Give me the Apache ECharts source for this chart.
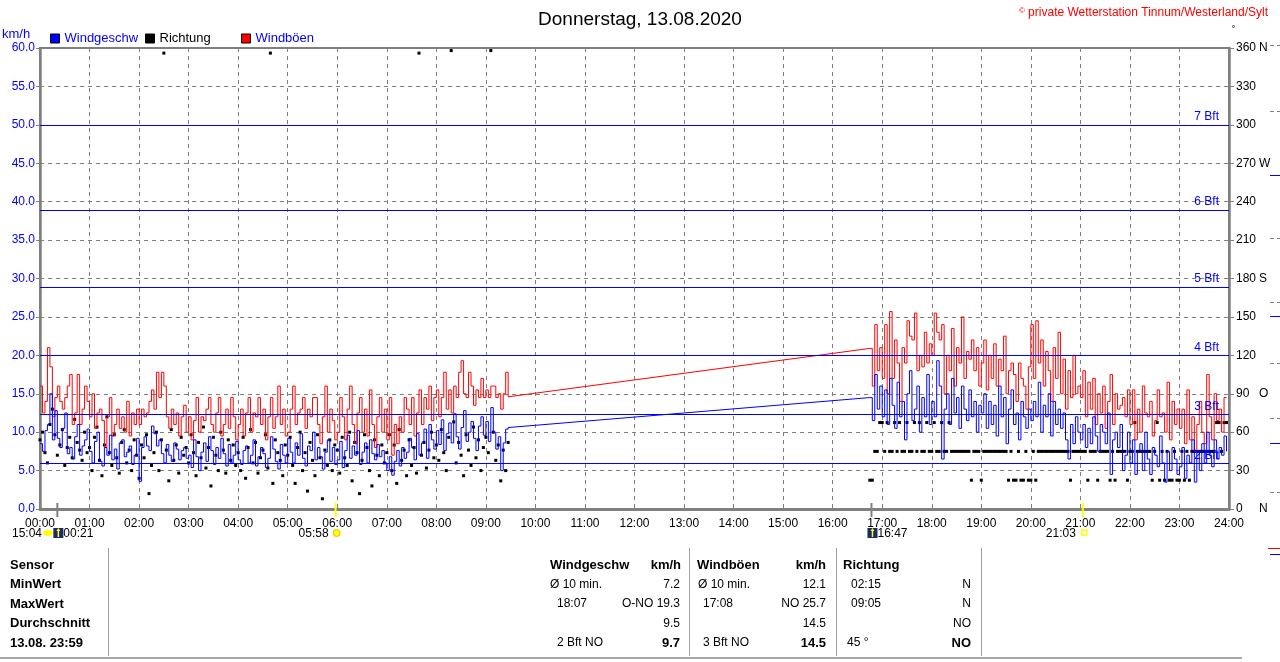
<!DOCTYPE html>
<html><head><meta charset="utf-8">
<script src="https://cdn.jsdelivr.net/npm/echarts/dist/echarts.min.js"></script>
<style>html,body{margin:0;padding:0;background:#fff}#c{width:1280px;height:662px}</style>
</head><body><div id="c"></div><script>
// ---------- data ----------
const stepMin = 3;            // sampling step of the arrays (minutes)
const seg1Start = 0;          // 00:00
const seg2Start = 1005;       // 16:45
const hourTicks = ['00:00','01:00','02:00','03:00','04:00','05:00','06:00','07:00','08:00','09:00','10:00','11:00','12:00','13:00','14:00','15:00','16:00','17:00','18:00','19:00','20:00','21:00','22:00','23:00','24:00'];

const speed1 = [
 8.5,7.5,10.2,11.0,15.0,9.0,12.8,9.2,8.0,10.5,12.5,7.2,8.0,6.5,9.4,11.0,7.0,8.2,9.0,10.4,
 7.5,6.0,8.8,10.0,6.2,5.6,8.0,7.0,9.6,6.4,7.8,5.2,8.6,9.0,6.8,7.4,8.2,5.8,7.0,9.2,
 3.6,8.0,9.4,8.2,7.6,10.8,9.8,8.2,9.0,7.2,6.0,8.4,7.0,6.2,8.6,7.8,6.4,7.6,8.0,6.6,
 7.0,5.4,9.0,6.8,5.0,7.4,8.6,6.2,9.4,7.6,5.8,8.0,6.6,9.2,7.2,5.6,8.4,6.0,7.0,8.8,
 6.4,5.8,7.6,8.2,6.0,7.0,9.0,5.6,6.8,8.0,7.2,5.4,6.6,9.4,7.8,6.2,5.2,8.4,7.0,6.0,
 9.2,7.4,6.0,8.6,7.0,9.8,6.6,5.6,8.2,7.6,10.0,6.4,8.0,6.8,5.2,7.4,9.0,6.2,8.0,5.8,
 6.4,8.8,5.4,7.6,9.6,6.6,8.2,7.0,10.2,5.8,7.4,8.6,6.0,9.0,7.2,6.4,8.4,6.8,7.6,6.0,
 5.0,6.8,4.4,6.2,7.6,5.6,8.0,6.6,7.4,9.2,8.0,6.4,9.8,7.0,8.6,10.4,6.6,11.0,9.0,7.8,
 10.2,8.4,11.6,7.6,9.8,11.2,8.6,12.4,9.4,7.8,10.6,12.8,8.8,10.0,11.4,9.2,7.6,10.8,12.0,9.6,
 11.4,8.8,13.2,10.0,7.8,9.4,5.0,8.6,10.4,10.6
];
const gust1 = [
 16,12.5,14,21,18.5,12,14.5,16,14,13,14.5,16,17.5,11,12.5,17.5,11,13,16,14,
 12,15,10.5,12.5,13,11.5,8,12,14.5,9.5,11,13,10.5,12,10,14,9.5,12.5,11,13,
 11,13,12,12.5,14,15.5,13,17.8,14.5,17.8,16,12,10.5,13,11,12.5,9.5,12,13.5,10,
 12,9,11.5,14.5,10,12,11.5,13,14.5,11,10,12.5,14.5,9.5,11,13,10.5,14.5,12,9,
 11,13,9.5,12.5,14.5,10,12.5,12,14.5,11,13,9,12,14.5,10.5,12,16,11,13,9.5,
 10,13,16,11,12.5,13,14.5,10.5,13,12,14.5,14.5,11,8.5,12,16,10,13,11.5,9,
 10,14.5,12,9,13,16,11,8.5,12.5,14.5,10,13,9.5,15.5,11,8,12,14.5,10,13,
 9,14.5,7,11,8.5,12,10,14.5,13,11,14.5,9.5,12.5,15.5,11,14.5,13,16,11.5,14.5,
 15.5,12,14.5,17.8,13,15.5,12.5,16,14.5,17.8,19.3,15,14.5,17.8,16,13.5,15.5,14.5,17,14.5,
 15.5,14.5,16,16,14.5,15,13,15,17.8,14.6
];
const dir1 = [
 54,60,44,36,66,78,58,42,50,62,34,48,56,40,70,52,46,38,60,44,
 48,30,56,64,38,26,50,72,44,34,58,40,28,52,62,36,46,30,54,42,
 24,50,40,58,12,34,44,60,30,54,356,46,22,62,38,50,28,56,42,48,
 36,58,44,26,52,40,64,32,48,18,56,42,30,60,46,28,54,38,50,34,
 44,30,56,24,48,62,36,52,28,40,46,58,32,356,20,54,44,38,26,50,
 42,56,34,20,48,60,30,44,14,52,38,26,58,40,8,46,34,54,30,50,
 46,28,56,40,34,60,22,52,44,12,38,58,48,30,18,54,42,26,50,36,
 44,58,30,50,20,62,38,46,26,54,34,48,28,356,42,52,32,46,60,40,
 50,38,62,44,30,56,358,68,36,52,42,26,58,46,34,64,40,54,30,48,
 56,44,358,60,38,50,22,46,30,52
];
const speed2 = [
 14.5,11.5,17.5,13,16,
 12,15.5,11,17,13.5,10.5,16.5,12,14,9,15,18,11.5,13,16,10,14.5,12,17.5,11,
 14,12,19.3,16,6.5,13,15,11,17,12.5,14.5,10.5,16,13,11.5,15.5,12,14,10,13.5,
 12.5,15,10.5,14,11,13.5,9.5,16,12,14.5,8.5,13,15.5,11,12.5,9,14,12,10.5,13,
 11.5,14,12,16.5,10,13.5,12,15,9.5,14,11,13,10.5,12.5,9,6.5,11,8.5,12,10,
 9,11,8,10.5,8.5,12,9.5,7.5,11,10,8.5,12.5,4.5,9,10,8,11,5,7,10,
 6,9,4.5,7.5,8.5,5,10,6.5,4.5,8,7,5.5,9.5,6,3.5,7.5,5,8,6.5,4.5,
 5.5,8,4,7,6,9,3.5,7.5,5,8.5,6,10,7,5.5,9,6.5,8,7,9.5,7.5
];
const gust2 = [
 20.9,16,24,18,21,
 17,24,15,25.7,17,22,19,14,21,19,24.5,22.5,22,25.5,18,20,18.5,23,19,21.5,
 20,25.5,23,22,24,15,20,18,23.5,16,21,19,25,17,20.5,19.5,22,18,21,16,
 19,22,15.5,20,17,21.5,16,19.5,18,22.5,15,18,19,17.5,14,19,17,16,13,18.5,
 24,17,24.5,19,22,16,20.5,18,14,21,17,23,15,19.5,13,18,14.5,20,15,16,
 14.5,18,12,16.5,13,17,11,15,12.5,16,10.5,14,17.5,11,15,13,13.5,14.5,12,15.5,
 11,15.5,9,13,10,16,12.5,12,14,9.5,11.5,15.5,12,12.5,10,16.5,9,14,11,13,
 10.5,13,8.5,15.5,9,12,7.5,11,14,10,8.5,17.5,12,9,15,11.5,13,10,14.5,14.5
];
const dir2 = [
 22.5,22.5,45,45,67.5,
 67.5,45,67.5,45,45,67.5,45,67.5,45,45,67.5,45,45,67.5,45,67.5,45,45,67.5,45,
 45,67.5,45,45,67.5,45,45,67.5,45,45,45,45,45,45,45,45,22.5,45,45,45,
 22.5,45,45,45,45,45,45,45,45,45,45,22.5,45,22.5,22.5,45,22.5,22.5,45,22.5,
 22.5,45,22.5,45,45,45,45,45,45,45,45,45,45,45,45,45,22.5,45,45,45,
 45,45,45,22.5,45,45,45,22.5,45,45,45,45,22.5,45,22.5,45,45,45,45,22.5,
 45,45,67.5,45,45,45,45,45,45,22.5,45,67.5,22.5,45,22.5,45,22.5,22.5,45,22.5,
 22.5,45,22.5,45,22.5,45,45,45,45,45,45,45,45,45,45,67.5,67.5,45,67.5,67.5
];
const bftValues = [5.9, 12.3, 20, 28.9, 38.9, 50];
const bftLabels = ['2 Bft','3 Bft','4 Bft','5 Bft','6 Bft','7 Bft'];
const dirAxisLetters = {0:'N', 90:'O', 180:'S', 270:'W', 360:'N'};

const sunEvents  = [{time:'05:58', kind:'rise'}, {time:'21:03', kind:'set'}];
const moonEvents = [{time:'00:21'}, {time:'16:47'}];
const moonPrevLabel = '15:04';

const tableHead = {sensor:'Sensor', speed:'Windgeschw', gust:'Windböen', dir:'Richtung', unit:'km/h'};
const rowLabels  = ['MinWert','MaxWert','Durchschnitt','13.08. 23:59'];
const speedLeft  = ['Ø 10 min.','18:07','','2 Bft NO'];
const speedRight = ['7.2','O-NO 19.3','9.5','9.7'];
const gustLeft   = ['Ø 10 min.','17:08','','3 Bft NO'];
const gustRight  = ['12.1','NO 25.7','14.5','14.5'];
const dirLeft    = ['02:15','09:05','','45 °'];
const dirRight   = ['N','N','NO','NO'];

// ---------- helpers ----------
const toMin = s => { const [h,m] = s.split(':').map(Number); return h*60+m; };
const pts = (arr, start) => arr.map((v,i) => [start + i*stepMin, v]);
const lastPt = (arr, start) => [start + (arr.length-1)*stepMin, arr[arr.length-1]];

const FONT = '"Liberation Sans", Arial, sans-serif';
const NARROW = '"Liberation Sans Narrow", "Liberation Sans", Arial, sans-serif';
const BLUE = '#0000ff', RED = '#ff0000', GRAY = '#808080';

const chart = echarts.init(document.getElementById('c'), null, {renderer:'canvas'});

const lineBase = {type:'line', showSymbol:false, symbol:'none', animation:false, lineStyle:{width:1}, emphasis:{disabled:true}};

const option = {
  animation:false,
  backgroundColor:'#ffffff',
  textStyle:{fontFamily:FONT},
  title:{text:'Donnerstag, 13.08.2020', left:'center', top:5,
         textStyle:{fontSize:19, fontWeight:'normal', color:'#000', fontFamily:FONT}},
  legend:[
    {data:[{name:'Windgeschw', textStyle:{color:BLUE}}], left:50, top:32},
    {data:[{name:'Richtung', textStyle:{color:'#000'}}], left:145, top:32},
    {data:[{name:'Windböen', textStyle:{color:BLUE}}], left:241, top:32}
  ].map(l => Object.assign(l, {padding:0, icon:'rect', itemWidth:9, itemHeight:9, itemGap:0, itemTextGap:4,
        selectedMode:false, itemStyle:{borderColor:'#000', borderWidth:1},
        textStyle:Object.assign({fontSize:13, fontFamily:FONT}, l.data[0].textStyle)})),
  grid:{left:40, right:51, top:48, bottom:153, containLabel:false, outerBoundsMode:'none',
        show:true, borderColor:GRAY, borderWidth:2, backgroundColor:'#fff'},
  xAxis:{type:'value', min:0, max:1440, interval:60,
    axisLine:{show:true, onZero:false, lineStyle:{color:GRAY, width:3}},
    axisTick:{show:false},
    axisLabel:{color:'#000', fontSize:12, margin:9, fontFamily:FONT,
               formatter:v => hourTicks[Math.round(v/60)]},
    splitLine:{show:true, lineStyle:{color:GRAY, width:1, type:[4,4]}}},
  yAxis:[
    {type:'value', min:0, max:60, interval:5, position:'left',
     axisLine:{show:true, lineStyle:{color:GRAY, width:2.5}},
     axisTick:{show:true, length:4, lineStyle:{color:GRAY, width:1}},
     axisLabel:{color:BLUE, fontSize:12, margin:5, fontFamily:FONT, formatter:v => v.toFixed(1)},
     splitLine:{show:true, lineStyle:{color:GRAY, width:1, type:[4,4]}}},
    {type:'value', min:0, max:360, interval:30, position:'right',
     axisLine:{show:true, lineStyle:{color:GRAY, width:2.5}},
     axisTick:{show:true, length:5, lineStyle:{color:GRAY, width:1}},
     axisLabel:{color:'#000', fontSize:12, margin:7, fontFamily:FONT,
       formatter:v => dirAxisLetters[v] ? '{n|'+v+'}{d|'+dirAxisLetters[v]+'}' : '{n|'+v+'}',
       rich:{n:{width:23, align:'left', fontSize:12, color:'#000', fontFamily:FONT},
             d:{fontSize:12, color:'#000', fontFamily:FONT}}},
     splitLine:{show:false}}
  ],
  series:[
    Object.assign({}, lineBase, {name:'bft', data:[], z:1, color:BLUE,
      markLine:{silent:true, symbol:['none','none'], animation:false,
        lineStyle:{color:BLUE, width:1, type:'solid', opacity:1},
        label:{show:true, position:'insideEndTop', distance:[10,2], color:BLUE, fontSize:12, fontFamily:FONT},
        emphasis:{disabled:true},
        data:bftValues.map((v,i) => ({yAxis:v, lineStyle:{color:BLUE, width:1, type:'solid'},
                                      label:{formatter:bftLabels[i], color:BLUE}}))}}),
    Object.assign({}, lineBase, {name:'Windböen', color:RED, lineStyle:{width:1, color:RED},
      data:[lastPt(gust1, seg1Start), [seg2Start, gust2[0]]]}),
    Object.assign({}, lineBase, {name:'Windgeschw', color:BLUE, lineStyle:{width:1, color:BLUE},
      data:[lastPt(speed1, seg1Start), [seg2Start, speed2[0]]]}),
    Object.assign({}, lineBase, {name:'Windböen', step:'end', color:RED, lineStyle:{width:1, color:RED}, data:pts(gust1, seg1Start)}),
    Object.assign({}, lineBase, {name:'Windböen', step:'end', color:RED, lineStyle:{width:1, color:RED}, data:pts(gust2, seg2Start)}),
    Object.assign({}, lineBase, {name:'Windgeschw', step:'end', color:BLUE, lineStyle:{width:1, color:BLUE}, data:pts(speed1, seg1Start)}),
    Object.assign({}, lineBase, {name:'Windgeschw', step:'end', color:BLUE, lineStyle:{width:1, color:BLUE}, data:pts(speed2, seg2Start)}),
    {type:'scatter', name:'Richtung', yAxisIndex:1, symbol:'rect', symbolSize:3, color:'#000',
     itemStyle:{color:'#000', opacity:1}, animation:false, emphasis:{disabled:true},
     data:pts(dir1, seg1Start).concat(pts(dir2, seg2Start))}
  ]
};
chart.setOption(option);

// ---------- graphic (texts, table, sun/moon markers) ----------
function txt(x, y, text, o) {
  o = o || {};
  return {type:'text', x:x, y:y, silent:true, z:10, style:{
    text:text, fill:o.fill||'#000', font:o.font||('12px '+FONT),
    textAlign:o.align||'left', align:o.align||'left',
    textVerticalAlign:'middle', verticalAlign:'middle', rich:o.rich}};
}
function vline(x, y1, y2, color, w) {
  return {type:'line', silent:true, z:10, shape:{x1:x, y1:y1, x2:x, y2:y2}, style:{stroke:color, lineWidth:w}};
}
function hline(x1, x2, y, color, w, dash) {
  return {type:'line', silent:true, z:10, shape:{x1:x1, y1:y, x2:x2, y2:y}, style:{stroke:color, lineWidth:w, lineDash:dash||null}};
}
const g = [];
g.push(txt(2, 34, 'km/h', {fill:BLUE, font:'13px '+FONT}));
g.push(txt(1268, 13, '{c|©} private Wetterstation Tinnum/Westerland/Sylt',
  {fill:RED, align:'right', font:'12px '+FONT,
   rich:{c:{fontSize:8, fill:RED, color:RED, verticalAlign:'top', padding:[0,0,4,0]}}}));
g.push(txt(1232, 31, '˚', {font:'10px '+FONT}));

// markers under the time axis
const axisY = 509;
sunEvents.forEach(e => {
  const x = chart.convertToPixel({xAxisIndex:0}, toMin(e.time));
  g.push(vline(x, axisY-6, axisY+8, '#ffff00', 2));
  g.push(txt(x-7, 534, e.time, {align:'right'}));
  if (e.kind === 'rise') g.push({type:'circle', silent:true, z:10, shape:{cx:x+1, cy:533, r:3.5}, style:{fill:'#ffff00', stroke:'#e0c000', lineWidth:1}});
  else g.push({type:'rect', silent:true, z:10, shape:{x:x-1, y:530, width:5, height:5}, style:{fill:'#fff', stroke:'#ffff00', lineWidth:1.5}});
});
moonEvents.forEach(e => {
  const x = chart.convertToPixel({xAxisIndex:0}, toMin(e.time));
  g.push(vline(x, axisY-6, axisY+8, GRAY, 2));
  g.push({type:'rect', silent:true, z:10, shape:{x:x-4, y:528, width:10, height:10}, style:{fill:'#1a2a6c'}});
  g.push({type:'polygon', silent:true, z:11, shape:{points:[[x-1,531],[x+3,531],[x+1,528]]}, style:{fill:'#ffff00'}});
  g.push(vline(x+1, 530, 537, '#ffff00', 1.5));
  g.push(txt(x+6, 534, e.time));
});
g.push(txt(42, 534, moonPrevLabel, {align:'right'}));
g.push({type:'ellipse', silent:true, z:10, shape:{cx:48, cy:533, rx:5, ry:3}, style:{fill:'#ffff00'}});

// cut-off edge of the neighbouring picture at the far right
[45, 111, 238, 302, 363, 418, 492].forEach(y => g.push(hline(1270, 1280, y + 0.5, GRAY, 1, [4,3])));
[175, 316, 443, 554].forEach(y => g.push(hline(1270, 1280, y + 0.5, BLUE, 1)));
g.push(hline(1268, 1280, 548.5, RED, 1));

// table
const rowsY = [565, 584.5, 604, 623.5, 643];
const B13 = 'bold 13px '+FONT;
const N12 = '12px '+NARROW;
const BN13 = 'bold 13px '+NARROW;
g.push(txt(10, rowsY[0], tableHead.sensor, {font:B13}));
g.push(txt(550, rowsY[0], tableHead.speed, {font:B13}));
g.push(txt(681, rowsY[0], tableHead.unit, {font:B13, align:'right'}));
g.push(txt(697, rowsY[0], tableHead.gust, {font:B13}));
g.push(txt(826, rowsY[0], tableHead.unit, {font:B13, align:'right'}));
g.push(txt(843, rowsY[0], tableHead.dir, {font:B13}));
rowLabels.forEach((r,i) => {
  const y = rowsY[i+1];
  const last = i === rowLabels.length-1;
  g.push(txt(10, y, r, {font:B13}));
  g.push(txt(i===0 ? 550 : 557, y, speedLeft[i], {font:N12}));
  g.push(txt(680, y, speedRight[i], {font: last ? BN13 : N12, align:'right'}));
  g.push(txt(i===0 ? 698 : 703, y, gustLeft[i], {font:N12}));
  g.push(txt(826, y, gustRight[i], {font: last ? BN13 : N12, align:'right'}));
  g.push(txt(last ? 847 : 851, y, dirLeft[i], {font:N12}));
  g.push(txt(971, y, dirRight[i], {font: last ? BN13 : N12, align:'right'}));
});
[108, 689, 836, 981].forEach(x => g.push(vline(x+0.5, 548, 656, '#a0a0a0', 1)));
g.push({type:'line', silent:true, z:10, shape:{x1:0, y1:658, x2:1242, y2:658}, style:{stroke:'#a8a8a8', lineWidth:2}});

chart.setOption({graphic:g});
</script></body></html>
